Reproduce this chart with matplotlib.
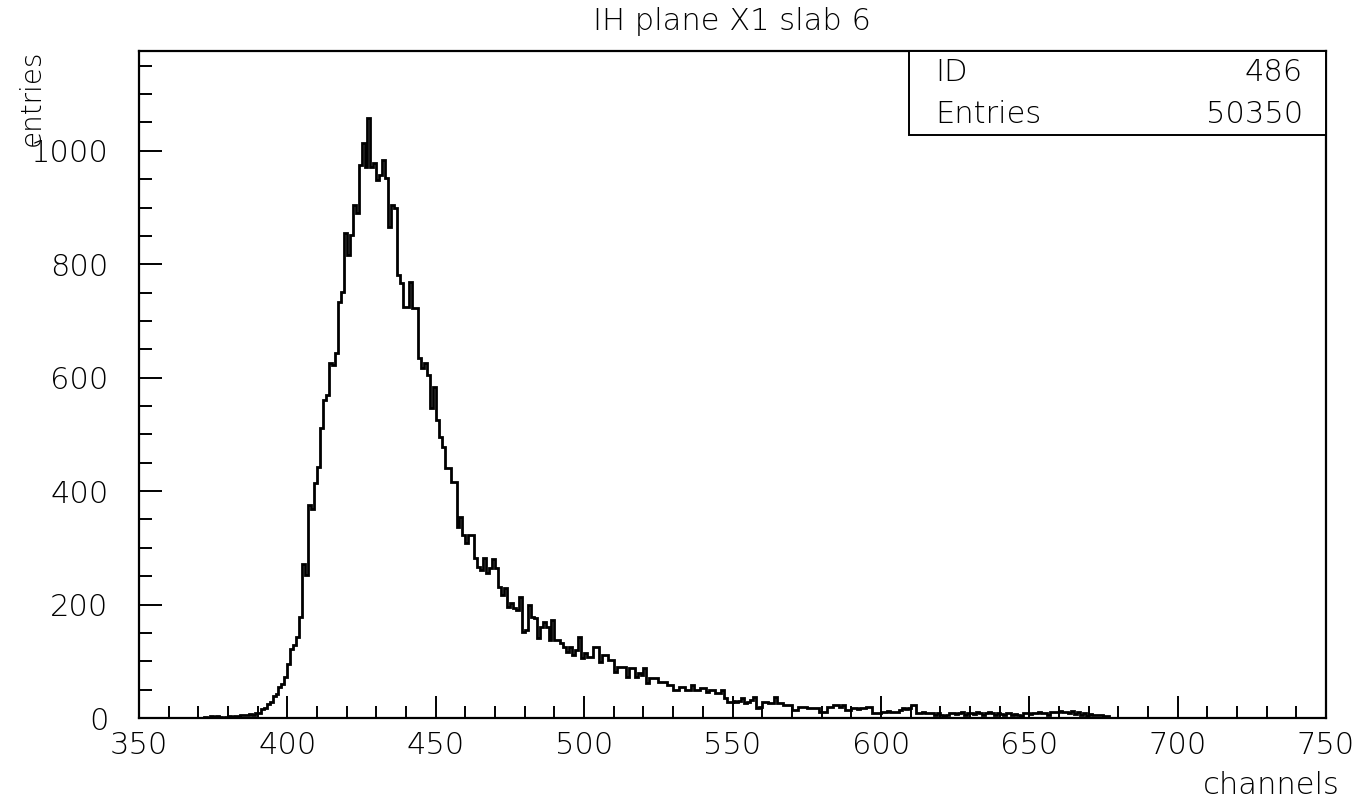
import matplotlib
matplotlib.use("Agg")
import matplotlib.pyplot as plt
from matplotlib.patches import Rectangle
from matplotlib.ticker import MultipleLocator
import numpy as np

# ---------------- data ----------------
title = "IH plane X1 slab 6"
x_label = "channels"
y_label = "entries"
hist_id = "486"
entries = "50350"

bin_lo, bin_hi = 350, 750          # 1-channel bins
x_ticks = [350, 400, 450, 500, 550, 600, 650, 700, 750]
y_ticks = [0, 200, 400, 600, 800, 1000]

counts_350_371 = [0] * 22
counts_372_399 = [2, 0, 3, 2, 3, 1, 0, 2, 3, 2, 4, 3, 5, 6, 5, 7, 6, 8, 9, 16,
                  17, 24, 28, 38, 42, 55, 60, 72]
counts_400_449 = [96, 122, 128, 143, 178, 272, 252, 375, 368, 414,
                  443, 511, 561, 570, 626, 622, 644, 734, 751, 855,
                  816, 852, 905, 890, 975, 1014, 972, 1058, 972, 979,
                  949, 958, 984, 952, 866, 905, 899, 781, 767, 725,
                  725, 769, 723, 723, 635, 617, 626, 605, 547, 584]
counts_450_499 = [526, 496, 478, 441, 441, 416, 416, 337, 355, 323,
                  309, 323, 323, 282, 266, 261, 282, 256, 265, 280,
                  265, 231, 217, 229, 196, 203, 194, 190, 213, 152,
                  155, 199, 178, 176, 141, 160, 169, 161, 138, 173,
                  138, 138, 132, 125, 116, 125, 111, 120, 143, 106]
counts_500_549 = [114, 108, 108, 125, 125, 99, 111, 111, 102, 102,
                  81, 90, 90, 90, 72, 88, 88, 72, 80, 76,
                  88, 61, 70, 70, 70, 64, 64, 64, 58, 58,
                  49, 49, 55, 55, 49, 49, 58, 49, 49, 53,
                  53, 46, 49, 49, 44, 44, 49, 35, 28, 28]
counts_550_599 = [30, 28, 30, 35, 26, 28, 32, 37, 18, 20,
                  28, 28, 26, 26, 37, 26, 26, 23, 23, 23,
                  14, 14, 19, 19, 19, 18, 18, 18, 18, 11,
                  11, 11, 19, 19, 23, 23, 20, 23, 14, 14,
                  18, 18, 16, 18, 18, 19, 19, 9, 9, 9]
counts_600_649 = [11, 11, 12, 11, 11, 11, 14, 18, 16, 18,
                  23, 23, 9, 9, 10, 8, 9, 9, 6, 9,
                  5, 4, 6, 8, 9, 7, 8, 10, 6, 9,
                  8, 7, 10, 9, 6, 8, 10, 9, 6, 8,
                  7, 5, 8, 9, 6, 7, 5, 4, 8, 9]
counts_650_676 = [7, 9, 8, 10, 8, 9, 6, 10, 11, 10,
                  12, 10, 11, 9, 12, 7, 10, 5, 8, 4,
                  7, 6, 6, 5, 6, 4, 3]
counts_677_749 = [0] * 73

counts = np.array(counts_350_371 + counts_372_399 + counts_400_449 +
                  counts_450_499 + counts_500_549 + counts_550_599 +
                  counts_600_649 + counts_650_676 + counts_677_749, dtype=float)
edges = np.arange(bin_lo, bin_hi + 1)

# ---------------- figure ----------------
W, H = 1367, 805
fig = plt.figure(figsize=(W / 100, H / 100), dpi=100, facecolor="white")
L, R, T, B = 139, 1326, 51, 718
ax = fig.add_axes([L / W, 1 - B / H, (R - L) / W, (B - T) / H])

ax.stairs(counts, edges, color="black", linewidth=2.0, baseline=None)

ax.set_xlim(bin_lo, bin_hi)
ax.set_ylim(0, 1176)

for s in ax.spines.values():
    s.set_linewidth(1.6)
    s.set_color("black")

FS = 22
FW = "light"
ax.set_xticks(x_ticks)
ax.set_yticks(y_ticks)
ax.xaxis.set_minor_locator(MultipleLocator(10))
ax.yaxis.set_minor_locator(MultipleLocator(50))
ax.tick_params(axis="x", which="major", direction="in", length=16, width=1.4,
               labelsize=FS, pad=9, top=False)
ax.tick_params(axis="x", which="minor", direction="in", length=8.5, width=1.4,
               top=False)
ax.tick_params(axis="y", which="major", direction="in", length=16.5, width=1.4,
               labelsize=FS, pad=22, right=False)
ax.tick_params(axis="y", which="minor", direction="in", length=9.3, width=1.4,
               right=False)
for lab in ax.get_xticklabels() + ax.get_yticklabels():
    lab.set_fontweight(FW)

# stats box
x0 = (909 - L) / (R - L)
y0 = (B - 135) / (B - T)
ax.add_patch(Rectangle((x0, y0), 1 - x0, 1 - y0, transform=ax.transAxes,
                       fill=True, facecolor="white", edgecolor="black",
                       linewidth=1.4, zorder=5, clip_on=False))
tx_l = (935 - L) / (R - L)
tx_r = (1303 - L) / (R - L)
row1 = (B - 73) / (B - T)
row2 = (B - 115) / (B - T)
ax.text(tx_l, row1, "ID", transform=ax.transAxes, fontsize=FS, ha="left",
        va="center", zorder=6, fontweight=FW)
ax.text(tx_r, row1, hist_id, transform=ax.transAxes, fontsize=FS, ha="right",
        va="center", zorder=6, fontweight=FW)
ax.text(tx_l, row2, "Entries", transform=ax.transAxes, fontsize=FS, ha="left",
        va="center", zorder=6, fontweight=FW)
ax.text(tx_r, row2, entries, transform=ax.transAxes, fontsize=FS, ha="right",
        va="center", zorder=6, fontweight=FW)

# title and axis labels
fig.text(732 / W, 1 - 22 / H, title, fontsize=FS, ha="center", va="center",
         fontweight=FW)
fig.text(1340 / W, 1 - 785 / H, x_label, fontsize=FS, ha="right", va="center",
         fontweight=FW)
fig.text(32 / W, 1 - 50 / H, y_label, fontsize=20, ha="center", va="top",
         rotation=90, fontweight=FW)

fig.savefig("out.png", dpi=100, facecolor="white")
